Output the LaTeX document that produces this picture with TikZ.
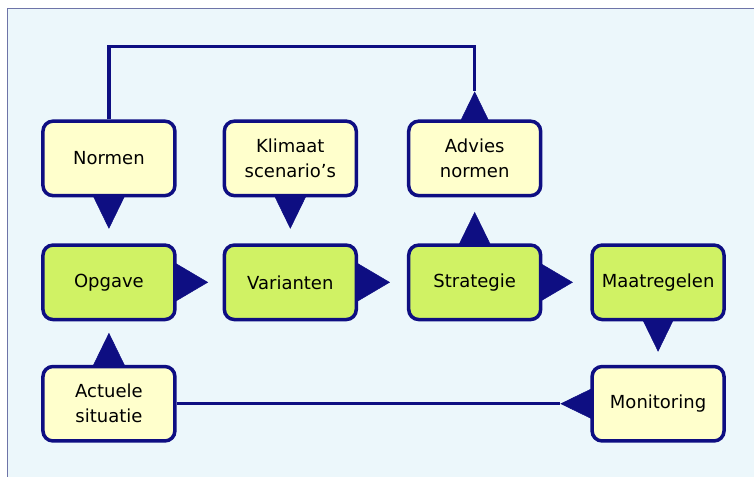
\documentclass[tikz,border=0pt]{standalone}
\usepackage{fontspec}
\setmainfont{DejaVu Sans}
\usetikzlibrary{arrows.meta,positioning,backgrounds}

\definecolor{navy}{RGB}{14,14,130}
\definecolor{cream}{RGB}{255,255,204}
\definecolor{lime}{RGB}{208,242,100}
\definecolor{bgblue}{RGB}{236,247,251}
\definecolor{framecol}{RGB}{110,116,168}

\begin{document}
\begin{tikzpicture}[x=1pt, y=1pt,
    box/.style={draw=navy, line width=3.5pt, rounded corners=10pt, fill=cream,
      minimum width=132pt, minimum height=74.5pt, align=center,
      font=\fontsize{18}{25}\selectfont},
    stage/.style={box, fill=lime},
    pointer/.style={navy, line width=0.5pt, shorten >=14.5pt,
      -{Triangle[length=34pt, width=33pt]}},
    sidepointer/.style={pointer, -{Triangle[length=34pt, width=40pt]}},
    link/.style={navy, line width=3.5pt}]

    % top row
    \node[box] at (109, 318.5) (normen) {Normen};
    \node[box] at (290.5, 318.5) (klimaat) {Klimaat\\scenario’s};
    \node[box] at (475, 318.5) (advies) {Advies\\normen};

    % middle row
    \node[stage] at (109, 194.5) (opgave) {Opgave};
    \node[stage] at (290.5, 194.5) (varianten) {Varianten};
    \node[stage] at (475, 194.5) (strategie) {Strategie};
    \node[stage] at (658.5, 194.5) (maatregelen) {Maatregelen};

    % bottom row
    \node[box] at (109, 73) (actueel) {Actuele\\situatie};
    \node[box] at (658.5, 73) (monitoring) {Monitoring};

    \coordinate[above=28pt of advies] (advtip);
    \coordinate[left=30pt of monitoring] (montip);

    \begin{scope}[on background layer]
      % background and frame
      \fill[white] (0,0) rectangle (754,477);
      \fill[bgblue] (8,0) rectangle (754,468);
      \draw[framecol, line width=1pt] (8,0) -- (8,468) -- (754,468);

      % feedback lines
      \draw[link] (normen.north) -- ++(0,73) -| (advtip);
      \draw[link] (actueel.east) -- (montip);

      % pointers
      \draw[pointer] (normen.center) -- (opgave);
      \draw[pointer] (klimaat.center) -- (varianten);
      \draw[pointer] (strategie.center) -- (advies);
      \draw[pointer, shorten >=0pt] (advies.center) -- (advtip);
      \draw[pointer, shorten >=11.5pt] (actueel.center) -- (opgave);
      \draw[pointer, shorten >=13pt] (maatregelen.center) -- (monitoring);
      \draw[pointer, shorten >=0pt] (monitoring.center) -- (montip);
      \draw[sidepointer] (opgave.center) -- (varianten);
      \draw[sidepointer, shorten >=17pt] (varianten.center) -- (strategie);
      \draw[sidepointer, shorten >=17.5pt] (strategie.center) -- (maatregelen);
    \end{scope}
\end{tikzpicture}
\end{document}
